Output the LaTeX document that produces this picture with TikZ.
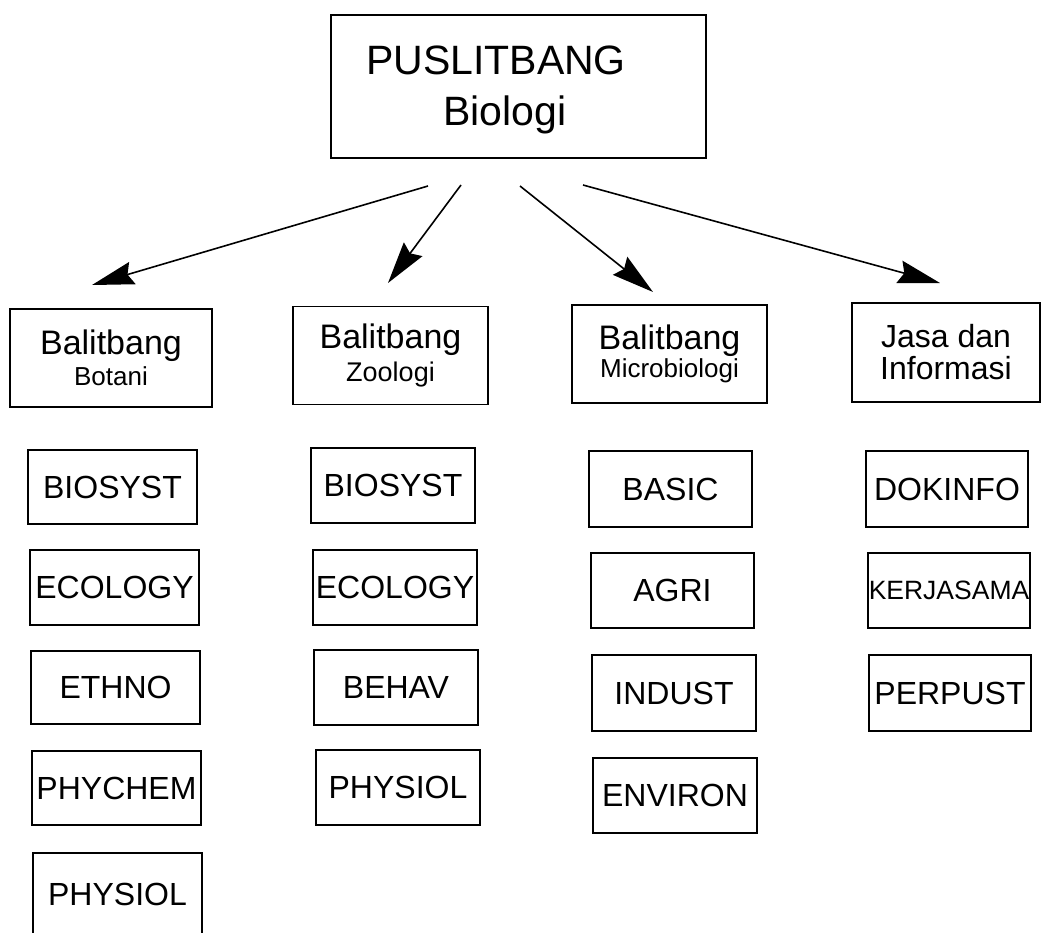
\documentclass[tikz,border=0pt]{standalone}
\usepackage{fontspec}
\setmainfont{Liberation Sans}
\usetikzlibrary{arrows.meta}
\begin{document}
\begin{tikzpicture}[x=1pt,y=-1pt,
  box/.style={draw, line width=1.8pt, inner sep=0pt, align=center},
  unitbox/.style={box, minimum width=202pt, minimum height=98pt, font=\fontsize{26}{31}\selectfont},
  leaf/.style={box, minimum width=166pt, minimum height=75pt, font=\fontsize{32}{38}\selectfont},
  link/.style={line width=1.6pt, -{Stealth[length=42pt,width=23pt,inset=5pt]}}]
\useasboundingbox (0,0) rectangle (1041,932);
\clip (0,0) rectangle (1041,932);

% top
\node[box, minimum width=375pt, minimum height=143pt] (top) at (518.5,86.5) {};
\node[font=\fontsize{41}{51}\selectfont, align=center, inner sep=0pt] (toptext) at (496,90) {PUSLITBANG\\\hspace*{18pt}Biologi};

% level 2
\node[unitbox, minimum width=202pt] (bot) at (111,358) {{\fontsize{34}{31}\selectfont Balitbang}\\Botani};
\node[unitbox, minimum width=195pt, font=\fontsize{27}{33}\selectfont] (zoo) at (390.5,355.5) {{\fontsize{34}{33}\selectfont Balitbang}\\Zoologi};
\node[unitbox, minimum width=195pt, font=\fontsize{26}{28}\selectfont] (mic) at (669.5,354) {{\fontsize{34}{28}\selectfont Balitbang}\\Microbiologi};
\node[unitbox, minimum width=188pt, minimum height=99pt, font=\fontsize{32}{32}\selectfont] (jas) at (946,352.5) {Jasa dan\\Informasi};

% arrows
\coordinate (a1s) at (428,186); \coordinate (a1e) at (92,285);
\coordinate (a2s) at (461,185); \coordinate (a2e) at (388,283);
\coordinate (a3s) at (520,186); \coordinate (a3e) at (653,292);
\coordinate (a4s) at (583,185); \coordinate (a4e) at (940,283);
\draw[link] (a1s) -- (a1e);
\draw[link] (a2s) -- (a2e);
\draw[link] (a3s) -- (a3e);
\draw[link] (a4s) -- (a4e);

% Botani column
\node[leaf, minimum width=169pt, minimum height=74pt] (b1) at (112.5,487) {BIOSYST};
\node[leaf, minimum width=169pt] (b2) at (114.5,587.5) {ECOLOGY};
\node[leaf, minimum width=169pt, minimum height=73pt] (b3) at (115.5,687.5) {ETHNO};
\node[leaf, minimum width=169pt, minimum height=74pt] (b4) at (116.5,788) {PHYCHEM};
\node[leaf, minimum width=169pt, minimum height=82pt] (b5) at (117.5,894) {PHYSIOL};

% Zoologi column
\node[leaf, minimum width=164pt] (z1) at (393,485.5) {BIOSYST};
\node[leaf, minimum width=164pt] (z2) at (395,587.5) {ECOLOGY};
\node[leaf, minimum width=164pt] (z3) at (396,687.5) {BEHAV};
\node[leaf, minimum width=164pt] (z4) at (398,787.5) {PHYSIOL};

% Microbiologi column
\node[leaf, minimum width=163pt, minimum height=76pt] (m1) at (670.5,489) {BASIC};
\node[leaf, minimum width=163pt] (m2) at (672.5,590.5) {AGRI};
\node[leaf, minimum width=164pt, minimum height=76pt] (m3) at (674,693) {INDUST};
\node[leaf, minimum width=164pt] (m4) at (675,795.5) {ENVIRON};

% Jasa column
\node[leaf, minimum width=162pt, minimum height=76pt] (j1) at (947,489) {DOKINFO};
\node[leaf, minimum width=162pt, font=\fontsize{26.5}{32}\selectfont] (j2) at (949,590.5) {KERJASAMA};
\node[leaf, minimum width=162pt, minimum height=76pt] (j3) at (950,693) {PERPUST};
\end{tikzpicture}
\end{document}
